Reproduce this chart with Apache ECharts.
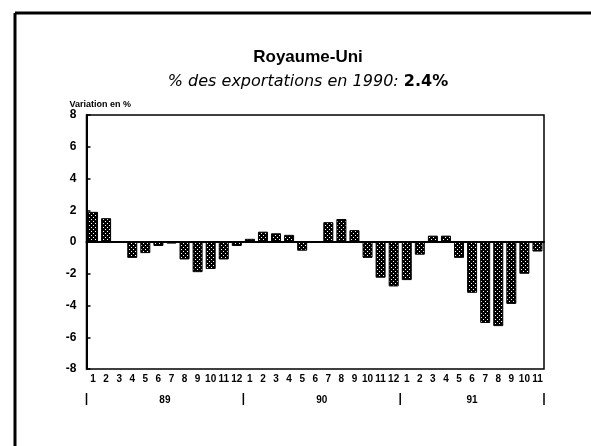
<!DOCTYPE html>
<html>
<head>
<meta charset="utf-8">
<script src="https://cdn.jsdelivr.net/npm/echarts@6/dist/echarts.min.js"></script>
<style>
  html, body { margin: 0; padding: 0; background: #fff; }
  #main { width: 591px; height: 446px; }
</style>
</head>
<body>
<div id="main"></div>
<script>
// mois (89: 1-12, 90: 1-12, 91: 1-11)
var months = ['1','2','3','4','5','6','7','8','9','10','11','12',
              '1','2','3','4','5','6','7','8','9','10','11','12',
              '1','2','3','4','5','6','7','8','9','10','11'];
// variation en %
var values = [1.9, 1.5, 0, -1.0, -0.7, -0.25, -0.1, -1.1, -1.9, -1.7, -1.1, -0.25,
              0.2, 0.65, 0.55, 0.45, -0.55, 0.05, 1.25, 1.45, 0.75, -1.0, -2.25, -2.8,
              -2.4, -0.8, 0.4, 0.4, -1.0, -3.2, -5.1, -5.3, -3.9, -2.0, -0.6];
var years = ['89', '90', '91'];
var yearMonths = [12, 12, 11];

// motif pointillé des barres
function makePattern () {
  var c = document.createElement('canvas');
  c.width = 4; c.height = 4;
  var ctx = c.getContext('2d');
  ctx.fillStyle = '#000';
  ctx.fillRect(0, 0, 4, 4);
  ctx.fillStyle = '#fff';
  ctx.fillRect(1, 1, 1, 1);
  ctx.fillRect(3, 3, 1, 1);
  return c;
}

var font = 'Liberation Sans, Arial, sans-serif';
var wide = 'DejaVu Sans, sans-serif';
var myChart = echarts.init(document.getElementById('main'));

var option = {
  animation: false,
  backgroundColor: '#fff',
  title: {
    left: 303,
    top: 44,
    textAlign: 'center',
    text: 'Royaume-Uni',
    textStyle: { fontFamily: font, fontSize: 17, fontWeight: 'bold', color: '#000' },
    subtext: '{i|% des exportations en 1990: }{b|2.4%}',
    itemGap: 8,
    subtextStyle: {
      rich: {
        i: { fontFamily: wide, fontSize: 16, fontStyle: 'italic', color: '#000' },
        b: { fontFamily: wide, fontSize: 16, fontWeight: 'bold', color: '#000' }
      }
    }
  },
  grid: {
    left: 86.5, right: 47, top: 115, bottom: 77,
    show: true, borderColor: '#000', borderWidth: 1.5,
    containLabel: false
  },
  xAxis: {
    type: 'category',
    data: months,
    axisLine: { lineStyle: { color: '#000', width: 2 } },
    axisTick: { alignWithLabel: true, length: 4, lineStyle: { color: '#000', width: 1.5 } },
    axisLabel: {
      interval: 0, margin: 5, color: '#000',
      fontFamily: font, fontSize: 10, fontWeight: 'bold'
    },
    splitLine: { show: false }
  },
  yAxis: {
    type: 'value',
    min: -8, max: 8, interval: 2,
    name: 'Variation en %',
    nameLocation: 'end',
    nameGap: 5,
    nameTextStyle: {
      align: 'left', padding: [0, 0, 0, -17],
      fontFamily: font, fontSize: 9, fontWeight: 'bold', color: '#000'
    },
    axisLine: { show: true, lineStyle: { color: '#000', width: 2 } },
    axisTick: { show: true, inside: true, length: 4, lineStyle: { color: '#000', width: 1.5 } },
    axisLabel: {
      margin: 10, color: '#000',
      fontFamily: font, fontSize: 12, fontWeight: 'bold'
    },
    splitLine: { show: false }
  },
  series: [{
    type: 'bar',
    data: values,
    barWidth: 10,
    itemStyle: {
      color: { image: makePattern(), repeat: 'repeat' },
      borderColor: '#000',
      borderWidth: 1
    },
    markLine: {
      silent: true,
      symbol: 'none',
      label: { show: false },
      lineStyle: { color: '#000', width: 2, type: 'solid' },
      data: [{ yAxis: 0 }]
    }
  }]
};
myChart.setOption(option);

// cadre de la page, séparateurs et libellés des années
var gfx = [
  { type: 'line', shape: { x1: 15, y1: 13, x2: 591, y2: 13 }, style: { stroke: '#000', lineWidth: 3 } },
  { type: 'line', shape: { x1: 15, y1: 13, x2: 15, y2: 446 }, style: { stroke: '#000', lineWidth: 3 } }
];
var start = 0;
var half = (myChart.convertToPixel({ xAxisIndex: 0 }, 1) - myChart.convertToPixel({ xAxisIndex: 0 }, 0)) / 2;
var sepY = 393;
for (var i = 0; i < years.length; i++) {
  var x0 = myChart.convertToPixel({ xAxisIndex: 0 }, start) - half;
  var x1 = myChart.convertToPixel({ xAxisIndex: 0 }, start + yearMonths[i] - 1) + half;
  gfx.push({ type: 'line', shape: { x1: x0, y1: sepY, x2: x0, y2: sepY + 12 }, style: { stroke: '#000', lineWidth: 1.5 } });
  gfx.push({
    type: 'text', x: (x0 + x1) / 2, y: sepY + 2,
    style: { text: years[i], align: 'center', verticalAlign: 'top', fill: '#000', font: 'bold 10px ' + font }
  });
  if (i === years.length - 1) {
    gfx.push({ type: 'line', shape: { x1: x1, y1: sepY, x2: x1, y2: sepY + 12 }, style: { stroke: '#000', lineWidth: 1.5 } });
  }
  start += yearMonths[i];
}
myChart.setOption({ graphic: gfx });
</script>
</body>
</html>
